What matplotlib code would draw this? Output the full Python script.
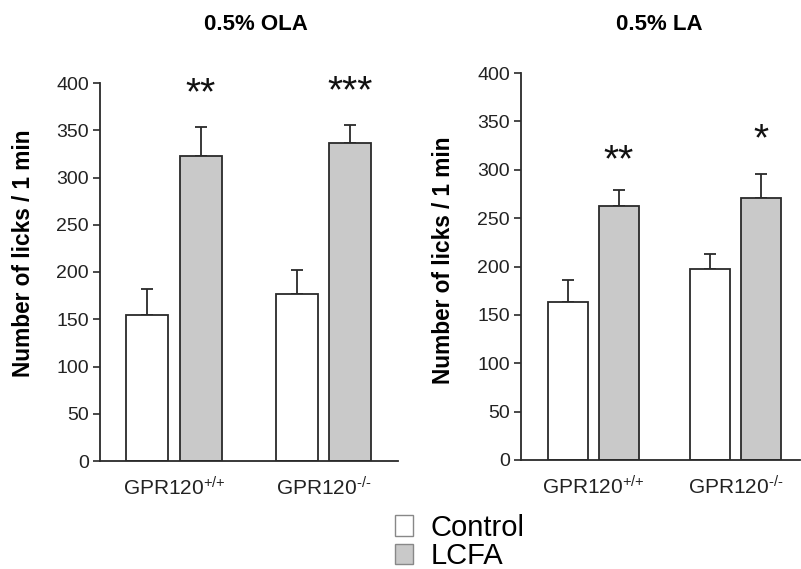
import matplotlib
matplotlib.use("Agg")
import matplotlib.pyplot as plt
from matplotlib.patches import Patch

plt.rcParams['font.family'] = ['Liberation Sans', 'DejaVu Sans']
plt.rcParams['mathtext.fontset'] = 'custom'
plt.rcParams['mathtext.rm'] = 'Liberation Sans'
plt.rcParams['mathtext.it'] = 'Liberation Sans'

groups = ["GPR120$^{\\text{+/+}}$", "GPR120$^{\\text{-/-}}$"]
series = ["Control", "LCFA"]
ola_control = [154, 177]
ola_control_err = [28, 25]
ola_lcfa = [323, 336]
ola_lcfa_err = [30, 20]
ola_stars = ["**", "***"]
la_control = [163, 197]
la_control_err = [23, 16]
la_lcfa = [263, 271]
la_lcfa_err = [16, 25]
la_stars = ["**", "*"]
yticks = [0, 50, 100, 150, 200, 250, 300, 350, 400]

W, H = 801, 569
fig = plt.figure(figsize=(W / 100, H / 100), dpi=100)

def px_axes(x0, x1, ytop, ybot):
    return fig.add_axes([x0 / W, 1 - ybot / H, (x1 - x0) / W, (ybot - ytop) / H])

edge = "#2a2a2a"
gray = "#c9c9c9"

def draw(ax, ctrl, cerr, lcfa, lerr, stars, star_y, title, title_x, xlim, bw, off, label_xy):
    xs = [0, 1]
    cx = [x - off for x in xs]
    lx = [x + off for x in xs]
    ax.bar(cx, ctrl, width=bw, color="white", edgecolor=edge, linewidth=1.3, zorder=2)
    ax.bar(lx, lcfa, width=bw, color=gray, edgecolor=edge, linewidth=1.3, zorder=2)
    ax.errorbar(cx, ctrl, yerr=[[0, 0], cerr], fmt="none", ecolor=edge, elinewidth=1.3,
                capsize=4, capthick=1.3, zorder=1)
    ax.errorbar(lx, lcfa, yerr=[[0, 0], lerr], fmt="none", ecolor=edge, elinewidth=1.3,
                capsize=4, capthick=1.3, zorder=1)
    for x, s, y in zip(lx, stars, star_y):
        ax.text(x, y, s, ha="center", va="center", fontsize=28, color="#111111")
    ax.set_ylim(0, 400)
    ax.set_xlim(*xlim)
    ax.set_yticks(yticks)
    ax.set_xticks(xs)
    ax.set_xticklabels(groups, fontsize=15, color="#222222")
    ax.tick_params(axis="x", length=0, pad=11)
    ax.tick_params(axis="y", labelsize=14, length=5, width=1.2, color=edge, labelcolor="#222222", pad=3)
    for s in ["top", "right"]:
        ax.spines[s].set_visible(False)
    for s in ["left", "bottom"]:
        ax.spines[s].set_color(edge)
        ax.spines[s].set_linewidth(1.3)
    ax.set_ylabel("Number of licks / 1 min", fontsize=16.3, fontweight="bold")
    ax.yaxis.set_label_coords(*label_xy)
    fig.text(title_x / W, 1 - 25 / H, title, ha="center", va="center", fontsize=16, fontweight="bold")

ax1 = px_axes(100, 398, 83, 461)
draw(ax1, ola_control, ola_control_err, ola_lcfa, ola_lcfa_err, ola_stars, [388, 390],
     "0.5% OLA", 256, (-0.495, 1.498), 0.281, 0.18, (-0.218, 0.549))

ax2 = px_axes(521, 800, 73, 460)
draw(ax2, la_control, la_control_err, la_lcfa, la_lcfa_err, la_stars, [309, 330],
     "0.5% LA", 659, (-0.507, 1.451), 0.28, 0.179, (-0.237, 0.517))

handles = [Patch(facecolor="white", edgecolor="#888888", linewidth=1.0),
           Patch(facecolor=gray, edgecolor="#888888", linewidth=1.0)]
fig.legend(handles, series, loc="center left", bbox_to_anchor=(395 / W, 1 - 542 / H),
           frameon=False, fontsize=21, handlelength=0.62, handleheight=0.72,
           handletextpad=0.6, labelspacing=0.02, borderpad=0, borderaxespad=0)

fig.savefig("out.png", dpi=100)
